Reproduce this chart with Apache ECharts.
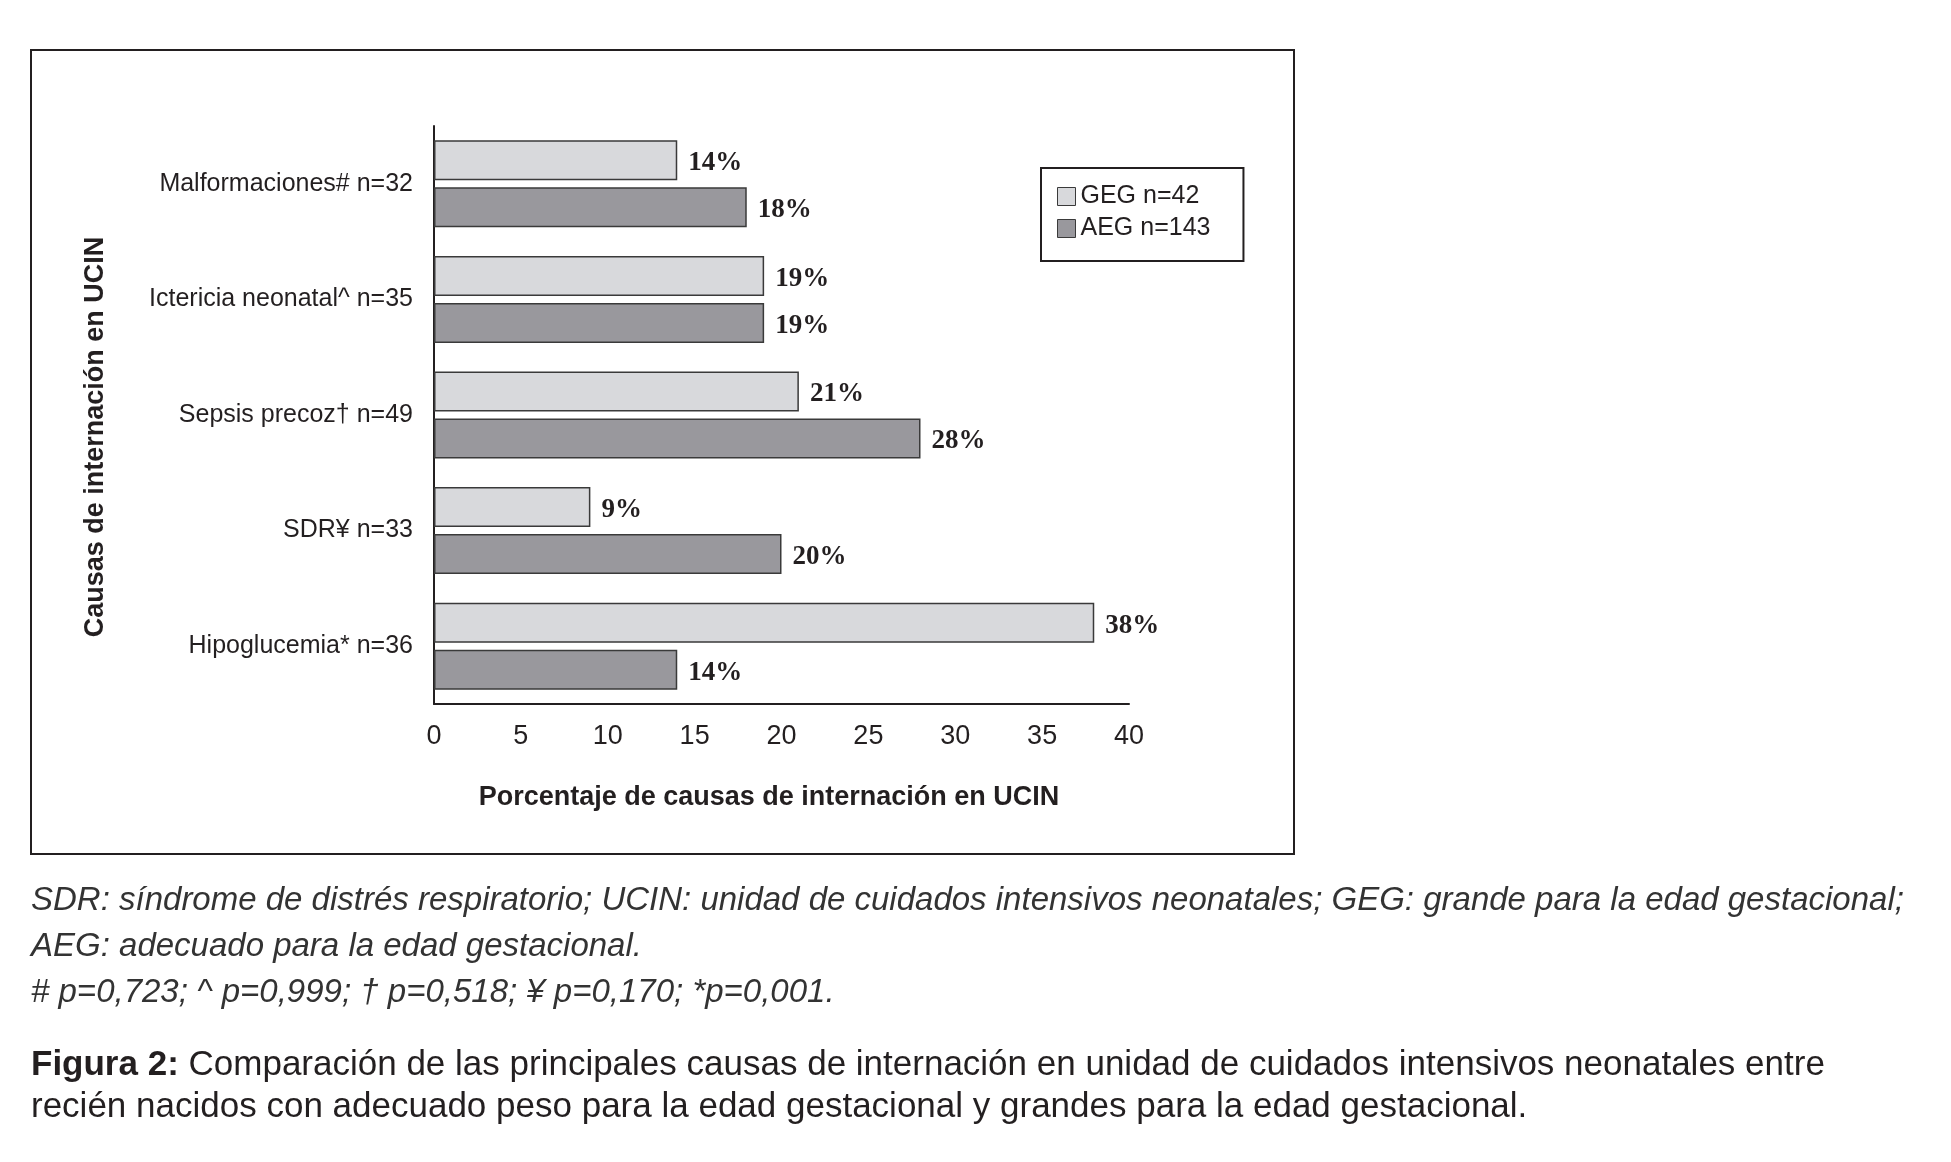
<!DOCTYPE html>
<html>
<head>
<meta charset="utf-8">
<script src="https://cdn.jsdelivr.net/npm/echarts@6/dist/echarts.min.js"></script>
<style>
html,body{margin:0;padding:0;background:#fff;}
#chart{width:1951px;height:1162px;}
</style>
</head>
<body>
<div id="chart"></div>
<script>
const categories = ['Malformaciones# n=32', 'Ictericia neonatal^ n=35', 'Sepsis precoz\u2020 n=49', 'SDR\u00a5 n=33', 'Hipoglucemia* n=36'];
const seriesNames = ['GEG n=42', 'AEG n=143'];
const gegValues = [14, 19, 21, 9, 38];
const aegValues = [18, 19, 28, 20, 14];
const xMin = 0, xMax = 40, xStep = 5;
const xAxisTitle = 'Porcentaje de causas de internación en UCIN';
const yAxisTitle = 'Causas de internación en UCIN';
const noteLines = [
  'SDR: síndrome de distrés respiratorio; UCIN: unidad de cuidados intensivos neonatales; GEG: grande para la edad gestacional;',
  'AEG: adecuado para la edad gestacional.',
  '# p=0,723; ^ p=0,999; \u2020 p=0,518; \u00a5 p=0,170; *p=0,001.'
];
const figLabel = 'Figura 2:';
const figLines = [
  ' Comparación de las principales causas de internación en unidad de cuidados intensivos neonatales entre',
  'recién nacidos con adecuado peso para la edad gestacional y grandes para la edad gestacional.'
];

const INK = '#231f20';
const chart = echarts.init(document.getElementById('chart'), null, {renderer: 'canvas'});

const barLabel = {
  show: true, position: 'right', distance: 11, offset: [0, 3],
  formatter: '{c}%',
  fontFamily: '"Liberation Serif", serif', fontWeight: 'bold', fontSize: 27, color: INK
};
const barBorder = {borderColor: '#3a3a3a', borderWidth: 1.5};

const graphics = [
  {type: 'rect', shape: {x: 31, y: 50, width: 1263, height: 804}, style: {fill: 'none', stroke: INK, lineWidth: 2}, silent: true}
];
const noteY = [901, 947, 993];
noteLines.forEach((t, i) => graphics.push({
  type: 'text', x: 31, y: noteY[i],
  style: {text: t, fill: '#333333', font: 'italic 33px "Liberation Sans", sans-serif', verticalAlign: 'middle'}
}));
graphics.push({
  type: 'text', x: 31, y: 1065,
  style: {text: '{b|' + figLabel + '}' + figLines[0], fill: INK, fontSize: 35, fontFamily: '"Liberation Sans", sans-serif', verticalAlign: 'middle',
    rich: {b: {fontWeight: 'bold', fontSize: 35, fontFamily: '"Liberation Sans", sans-serif', fill: INK}}}
});
graphics.push({
  type: 'text', x: 31, y: 1107,
  style: {text: figLines[1], fill: INK, fontSize: 35, fontFamily: '"Liberation Sans", sans-serif', verticalAlign: 'middle'}
});

chart.setOption({
  animation: false,
  backgroundColor: '#ffffff',
  grid: {left: 434, right: 822, top: 126, bottom: 458, containLabel: false},
  legend: {
    left: 1041, top: 168, orient: 'vertical',
    data: seriesNames,
    icon: 'rect', itemWidth: 18, itemHeight: 18, itemGap: 7,
    padding: [16, 33, 20, 16],
    borderColor: INK, borderWidth: 2,
    itemStyle: {borderColor: '#3a3a3a', borderWidth: 1},
    textStyle: {fontFamily: '"Liberation Sans", sans-serif', fontSize: 25, color: INK, lineHeight: 25}
  },
  xAxis: {
    type: 'value', min: xMin, max: xMax, interval: xStep,
    name: xAxisTitle, nameLocation: 'middle', nameGap: 80,
    nameTextStyle: {fontFamily: '"Liberation Sans", sans-serif', fontWeight: 'bold', fontSize: 27, color: INK, padding: [0, 25, 0, 0]},
    axisLine: {show: true, lineStyle: {color: INK, width: 2}},
    axisTick: {show: false},
    splitLine: {show: false},
    axisLabel: {margin: 19, fontFamily: '"Liberation Sans", sans-serif', fontSize: 27, color: INK}
  },
  yAxis: {
    type: 'category', data: categories, inverse: true,
    name: yAxisTitle, nameLocation: 'middle', nameGap: 325, nameRotate: 90,
    nameTextStyle: {fontFamily: '"Liberation Sans", sans-serif', fontWeight: 'bold', fontSize: 27, color: INK, padding: [0, 44, 0, 0]},
    axisLine: {show: true, lineStyle: {color: INK, width: 2}},
    axisTick: {show: false},
    axisLabel: {margin: 21, fontFamily: '"Liberation Sans", sans-serif', fontSize: 25, color: INK}
  },
  series: [
    {name: seriesNames[0], type: 'bar', data: gegValues, barWidth: 40, barGap: '17.5%',
      itemStyle: Object.assign({color: '#d8d9dc'}, barBorder), label: barLabel},
    {name: seriesNames[1], type: 'bar', data: aegValues, barWidth: 40, barGap: '17.5%',
      itemStyle: Object.assign({color: '#99989d'}, barBorder), label: barLabel}
  ],
  graphic: graphics
});
</script>
</body>
</html>
